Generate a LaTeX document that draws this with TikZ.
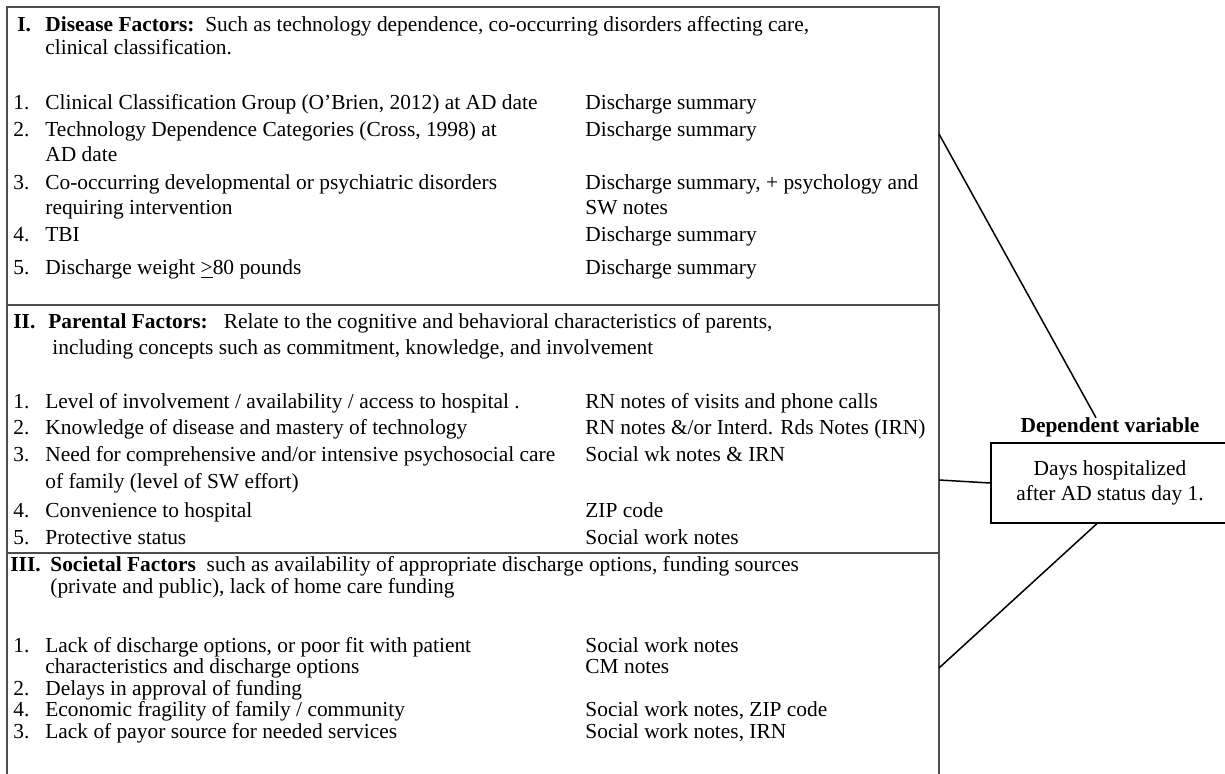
\documentclass[tikz,border=0pt]{standalone}
\usepackage{fontspec}
\setmainfont{Liberation Serif}

\begin{document}
\begin{tikzpicture}[x=0.5pt, y=-0.5pt, every node/.style={inner sep=0pt, font=\fontsize{10.7}{12.5}\selectfont}, txt/.style={anchor=base west}, frame/.style={line width=1pt, draw=gray!60!black}, conn/.style={line width=0.75pt}]

        \clip (0,0) rectangle (1225,774);

        \draw[frame] (7,800) -- (7,7) -- (939,7) -- (939,800);
        \draw[frame] (7,305) -- (939,305);
        \draw[frame] (7,553) -- (939,553);

        \node[txt] (r1) at (17,32) {\textbf{I.}};
        \node[txt] (h1) at (45,32) {\textbf{Disease Factors:}\ \ Such as technology dependence, co-occurring disorders affecting care,};
        \node[txt] (h1b) at (45,55) {clinical classification.};

        \node[txt] (n11) at (13,110) {1.};
        \node[txt] (t11) at (45,110) {Clinical Classification Group (O'Brien, 2012) at AD date};
        \node[txt] (s11) at (585,110) {Discharge summary};
        \node[txt] (n12) at (13,137) {2.};
        \node[txt] (t12) at (45,137) {Technology Dependence Categories (Cross, 1998) at};
        \node[txt] (t12b) at (45,162) {AD date};
        \node[txt] (s12) at (585,137) {Discharge summary};
        \node[txt] (n13) at (13,190) {3.};
        \node[txt] (t13) at (45,190) {Co-occurring developmental or psychiatric disorders};
        \node[txt] (t13b) at (45,215) {requiring intervention};
        \node[txt] (s13) at (585,190) {Discharge summary, + psychology and};
        \node[txt] (s13b) at (585,215) {SW notes};
        \node[txt] (n14) at (13,242) {4.};
        \node[txt] (t14) at (45,242) {TBI};
        \node[txt] (s14) at (585,242) {Discharge summary};
        \node[txt] (n15) at (13,275) {5.};
        \node[txt] (t15) at (45,275) {Discharge weight \underline{>}80 pounds};
        \node[txt] (s15) at (585,275) {Discharge summary};

        \node[txt] (r2) at (13,329) {\textbf{II.}};
        \node[txt] (h2) at (48,329) {\textbf{Parental Factors:}\ \ \ Relate to the cognitive and behavioral characteristics of parents,};
        \node[txt] (h2b) at (52,355) {including concepts such as commitment, knowledge, and involvement};

        \node[txt] (n21) at (13,409) {1.};
        \node[txt] (t21) at (45,409) {Level of involvement / availability / access to hospital .};
        \node[txt] (s21) at (585,409) {RN notes of visits and phone calls};
        \node[txt] (n22) at (13,435) {2.};
        \node[txt] (t22) at (45,435) {Knowledge of disease and mastery of technology};
        \node[txt] (s22) at (585,435) {RN notes \&/or Interd. Rds Notes (IRN)};
        \node[txt] (n23) at (13,462) {3.};
        \node[txt] (t23) at (45,462) {Need for comprehensive and/or intensive psychosocial care};
        \node[txt] (t23b) at (45,488) {of family (level of SW effort)};
        \node[txt] (s23) at (585,462) {Social wk notes \& IRN};
        \node[txt] (n24) at (13,517) {4.};
        \node[txt] (t24) at (45,517) {Convenience to hospital};
        \node[txt] (s24) at (585,517) {ZIP code};
        \node[txt] (n25) at (13,545) {5.};
        \node[txt] (t25) at (45,545) {Protective status};
        \node[txt] (s25) at (585,545) {Social work notes};

        \node[txt] (r3) at (10,571) {\textbf{III.}};
        \node[txt] (h3) at (50,571) {\textbf{Societal Factors}\ \ such as availability of appropriate discharge options, funding sources};
        \node[txt] (h3b) at (50,593) {(private and public), lack of home care funding};

        \node[txt] (n31) at (13,652) {1.};
        \node[txt] (t31) at (45,652) {Lack of discharge options, or poor fit with patient};
        \node[txt] (t31b) at (45,673) {characteristics and discharge options};
        \node[txt] (s31) at (585,652) {Social work notes};
        \node[txt] (s31b) at (585,673) {CM notes};
        \node[txt] (n32) at (13,695) {2.};
        \node[txt] (t32) at (45,695) {Delays in approval of funding};
        \node[txt] (n34) at (13,716) {4.};
        \node[txt] (t34) at (45,716) {Economic fragility of family / community};
        \node[txt] (s34) at (585,716) {Social work notes, ZIP code};
        \node[txt] (n33) at (13,738) {3.};
        \node[txt] (t33) at (45,738) {Lack of payor source for needed services};
        \node[txt] (s33) at (585,738) {Social work notes, IRN};

        \node[anchor=base, font=\fontsize{10.7}{12.5}\selectfont\bfseries] (deplabel) at (1110,433) {Dependent variable};
        \node[draw, line width=0.8pt, minimum width=119pt, minimum height=40pt, align=center] (dep) at (1110,483) {Days hospitalized\\after AD status day 1.};

        \coordinate (c1) at (939,134);
        \coordinate (c2) at (939,480);
        \coordinate (c3) at (939,668);

        \draw[conn] (c1) -- ([xshift=-7pt]deplabel.north);
        \draw[conn] (c2) -- (dep.west);
        \draw[conn] (c3) -- (dep.-108);

        \end{tikzpicture}
\end{document}
